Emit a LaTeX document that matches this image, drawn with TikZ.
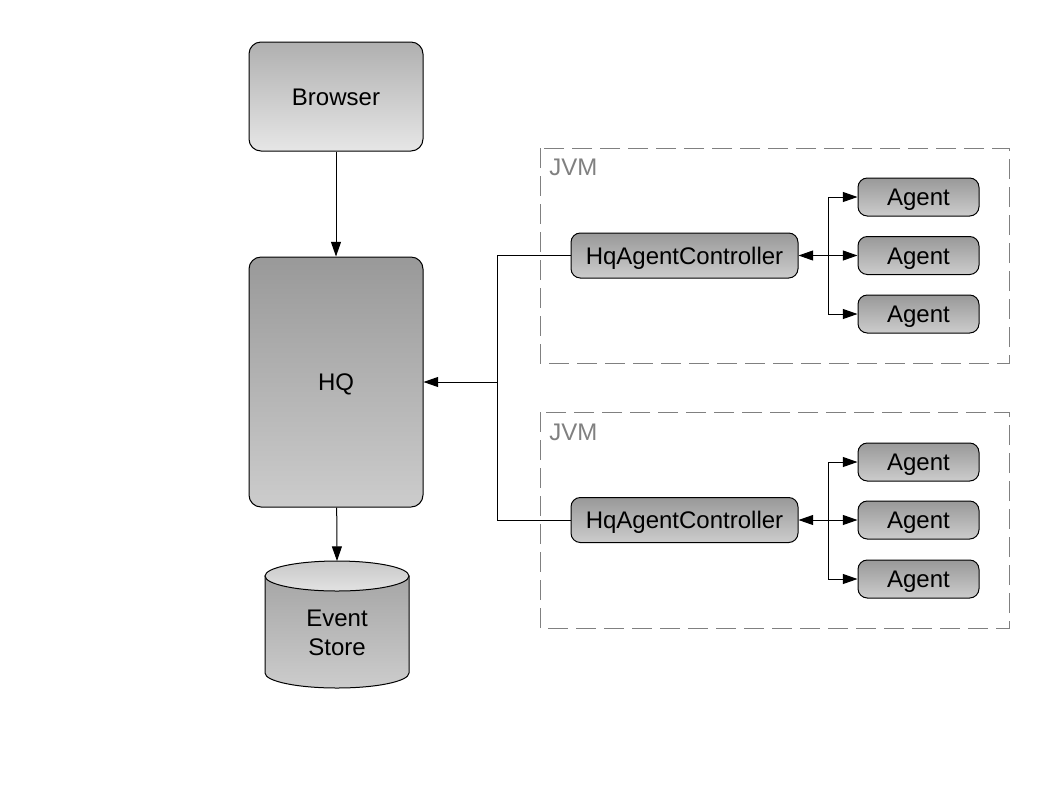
\documentclass[tikz,border=0pt]{standalone}
\usepackage{fontspec}
\setmainfont{Liberation Sans}
\usetikzlibrary{arrows.meta}
\definecolor{jvmgray}{HTML}{808080}
\definecolor{lightA}{HTML}{B0B0B0}
\definecolor{lightB}{HTML}{E6E6E6}
\definecolor{darkA}{HTML}{999999}
\definecolor{darkB}{HTML}{CCCCCC}
\definecolor{cylA}{HTML}{A6A6A6}
\definecolor{cylB}{HTML}{CCCCCC}
\definecolor{capA}{HTML}{C8C8C8}
\definecolor{capB}{HTML}{E2E2E2}
\begin{document}
\begin{tikzpicture}[x=0.75pt,y=-0.75pt,
  font=\fontsize{18}{21.75}\selectfont,
  box/.style={draw=black, line width=0.75pt, inner sep=0pt, text height=12.9pt, text depth=0pt},
  bigbox/.style={box, rounded corners=9pt, minimum width=130.5pt},
  smallbox/.style={box, rounded corners=7pt, top color=darkA, bottom color=darkB},
  ctrlbox/.style={smallbox, minimum width=170.25pt, minimum height=33.75pt},
  agentbox/.style={smallbox, minimum width=90.75pt, minimum height=28.5pt},
  jvmframe/.style={draw=jvmgray, line width=0.75pt, dash pattern=on 15pt off 6pt},
  jvmlabel/.style={text=jvmgray, anchor=west, inner sep=0pt},
  conn/.style={line width=0.75pt, -{Triangle[length=11pt,width=7.5pt]}},
  wire/.style={line width=0.75pt}]
\useasboundingbox (0,0) rectangle (1058,794);

% JVM frames
\draw[jvmframe] (540,148) rectangle (1009,363);
\draw[jvmframe] (540,412) rectangle (1009,628);
\node[jvmlabel] (jvm1) at (549,167) {JVM};
\node[jvmlabel] (jvm2) at (549,432) {JVM};

% main boxes
\node[bigbox, minimum height=81.75pt, top color=lightA, bottom color=lightB] (browser) at (336,96.5) {Browser};
\node[bigbox, minimum height=187.5pt, top color=darkA, bottom color=darkB] (hq) at (336,382) {HQ};

% cylinder
\shade[top color=cylA, bottom color=cylB, draw=black, line width=0.75pt]
  (265,576) -- (265,673) arc[start angle=180, end angle=0, x radius=72, y radius=15] -- (409,576) -- cycle;
\shade[top color=capA, bottom color=capB, draw=black, line width=0.75pt]
  (337,576) ellipse[x radius=72, y radius=15];
\node[align=center] (store) at (337,633) {Event\\Store};
\coordinate (storetop) at (337,561);

% controllers
\node[ctrlbox] (ctrl1) at (684.5,255.5) {HqAgentController};
\node[ctrlbox] (ctrl2) at (684.5,520) {HqAgentController};

% agents
\node[agentbox] (a11) at (918.5,197) {Agent};
\node[agentbox] (a12) at (918.5,255.5) {Agent};
\node[agentbox] (a13) at (918.5,314) {Agent};
\node[agentbox] (a21) at (918.5,462) {Agent};
\node[agentbox] (a22) at (918.5,520) {Agent};
\node[agentbox] (a23) at (918.5,579) {Agent};

% connectors
\draw[conn] (browser) -- (hq);
\draw[conn] (hq) -- (storetop);

\coordinate (j) at (497,382);
\draw[wire] (ctrl1.west) -| (j);
\draw[wire] (ctrl2.west) -| (j);
\draw[conn] (j) -- (hq.east);

\coordinate (b1) at (828,255.5);
\draw[conn] (b1) -- (ctrl1.east);
\draw[conn] (b1) |- (a11.west);
\draw[conn] (b1) -- (a12.west);
\draw[conn] (b1) |- (a13.west);

\coordinate (b2) at (828,520);
\draw[conn] (b2) -- (ctrl2.east);
\draw[conn] (b2) |- (a21.west);
\draw[conn] (b2) -- (a22.west);
\draw[conn] (b2) |- (a23.west);
\end{tikzpicture}
\end{document}
